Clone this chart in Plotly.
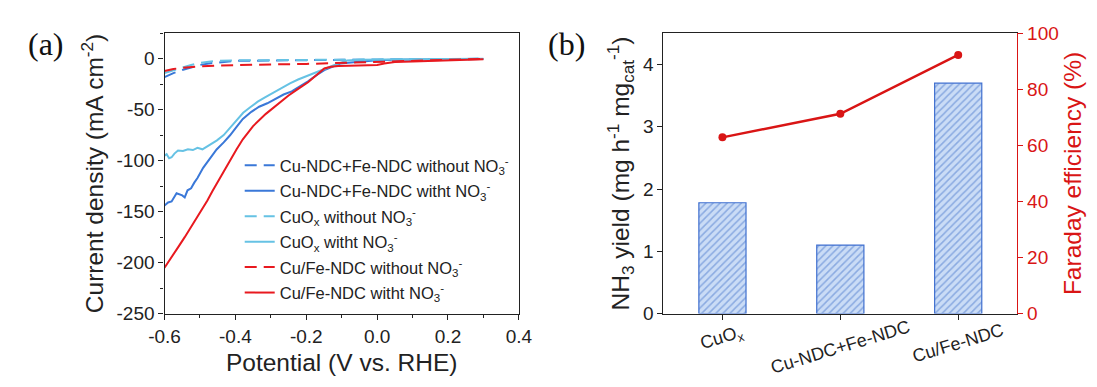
import re
import plotly.graph_objects as go

# ---------------- (a) LSV curves ----------------
pot_cunfe_wo = [-0.600, -0.575, -0.550, -0.525, -0.500, -0.475, -0.450, -0.400, -0.350, -0.300,
                -0.200, -0.100, 0.000, 0.100, 0.200, 0.300]
cur_cunfe_wo = [-18.0, -14.0, -11.0, -8.5, -6.0, -4.5, -3.5, -2.0, -1.8, -1.5,
                -1.2, -1.0, -0.8, -0.5, -0.3, 0.0]

pot_cunfe_w = [-0.600, -0.590, -0.580, -0.566, -0.550, -0.543, -0.535, -0.525, -0.516, -0.507,
               -0.491, -0.470, -0.453, -0.433, -0.415, -0.395, -0.379, -0.355, -0.333, -0.310,
               -0.287, -0.264, -0.241, -0.216, -0.195, -0.169, -0.149, -0.125, -0.104, -0.074,
               -0.050, -0.027, 0.000, 0.050, 0.100, 0.150, 0.200, 0.250, 0.300]
cur_cunfe_w = [-144.0, -141.0, -140.0, -132.0, -134.0, -136.0, -129.0, -127.0, -121.5, -117.0,
               -107.0, -97.0, -89.0, -82.0, -75.0, -66.0, -59.0, -52.0, -47.0, -43.6,
               -39.0, -35.0, -32.0, -27.0, -22.0, -15.5, -11.0, -7.5, -4.7, -3.5,
               -2.8, -2.0, -1.5, -1.0, -0.8, -0.6, -0.5, -0.3, -0.2]

pot_cuox_wo = [-0.600, -0.575, -0.550, -0.525, -0.500, -0.475, -0.450, -0.400, -0.300, -0.200,
               -0.100, 0.000, 0.100, 0.200, 0.300]
cur_cuox_wo = [-14.0, -11.0, -8.5, -6.0, -4.0, -2.8, -2.0, -1.5, -1.2, -1.0,
               -0.8, -0.6, -0.4, -0.2, 0.0]

pot_cuox_w = [-0.600, -0.594, -0.587, -0.580, -0.572, -0.562, -0.548, -0.534, -0.520, -0.507,
              -0.493, -0.482, -0.470, -0.452, -0.433, -0.415, -0.397, -0.378, -0.360, -0.337,
              -0.314, -0.290, -0.269, -0.246, -0.223, -0.200, -0.177, -0.150, -0.122, -0.100,
              -0.085, -0.050, 0.000, 0.100, 0.200, 0.300]
cur_cuox_w = [-95.0, -93.5, -97.5, -96.6, -93.0, -90.0, -90.5, -88.8, -89.5, -87.3,
              -88.8, -86.5, -84.0, -80.0, -74.8, -67.5, -60.5, -53.0, -48.0, -42.0,
              -37.4, -32.5, -28.0, -24.0, -20.3, -17.0, -14.0, -10.0, -6.3, -3.5,
              -1.6, -1.0, -0.6, -0.4, -0.2, 0.0]

pot_cufe_wo = [-0.600, -0.575, -0.550, -0.525, -0.500, -0.450, -0.400, -0.300, -0.200, -0.100,
               0.000, 0.100, 0.200, 0.300]
cur_cufe_wo = [-12.0, -10.0, -8.8, -8.0, -7.5, -6.5, -6.0, -5.5, -5.0, -4.0,
               -3.0, -2.0, -1.0, 0.0]

pot_cufe_w = [-0.600, -0.590, -0.575, -0.560, -0.543, -0.525, -0.510, -0.498, -0.479, -0.465,
              -0.452, -0.433, -0.415, -0.397, -0.379, -0.350, -0.314, -0.300, -0.275, -0.250,
              -0.225, -0.195, -0.175, -0.149, -0.130, -0.110, -0.080, -0.050, -0.020, 0.000,
              0.020, 0.050, 0.100, 0.150, 0.200, 0.250, 0.300]
cur_cufe_w = [-205.0, -200.0, -192.0, -184.0, -175.0, -165.0, -157.0, -150.0, -139.0, -130.0,
              -122.0, -111.0, -100.0, -89.0, -79.0, -66.0, -54.0, -50.0, -43.0, -36.0,
              -30.0, -23.0, -17.0, -9.5, -7.8, -7.0, -6.7, -6.5, -6.2, -6.0,
              -4.5, -3.0, -2.5, -2.0, -1.5, -1.0, -0.5]

x_ticks_a = [-0.6, -0.4, -0.2, 0.0, 0.2, 0.4]
x_ticktext_a = ["-0.6", "-0.4", "-0.2", "0.0", "0.2", "0.4"]
y_ticks_a = [-250, -200, -150, -100, -50, 0]
y_ticktext_a = ["-250", "-200", "-150", "-100", "-50", "0"]

# ---------------- (b) NH3 yield / FE ----------------
catalysts = ["CuO<sub>x</sub>", "Cu-NDC+Fe-NDC", "Cu/Fe-NDC"]
nh3_yield = [1.78, 1.10, 3.70]
faraday_eff = [62.9, 71.3, 92.3]

BLUE = "#3a78d8"
LIGHT = "#66c2e4"
RED = "#e8191f"
FE_RED = "#d91515"
AXIS = "#222222"
FONT = "Arial, Liberation Sans, sans-serif"

W, H = 1097, 387


def px_x(p):
    return p / W


def px_y(p):
    return 1 - p / H


fig = go.Figure()

curves = [
    ("Cu-NDC+Fe-NDC without NO<sub>3</sub><sup>-</sup>", pot_cunfe_wo, cur_cunfe_wo, BLUE, "12px,7px"),
    ("Cu-NDC+Fe-NDC witht NO<sub>3</sub><sup>-</sup>", pot_cunfe_w, cur_cunfe_w, BLUE, "solid"),
    ("CuO<sub>x</sub> without NO<sub>3</sub><sup>-</sup>", pot_cuox_wo, cur_cuox_wo, LIGHT, "12px,7px"),
    ("CuO<sub>x</sub> witht NO<sub>3</sub><sup>-</sup>", pot_cuox_w, cur_cuox_w, LIGHT, "solid"),
    ("Cu/Fe-NDC without NO<sub>3</sub><sup>-</sup>", pot_cufe_wo, cur_cufe_wo, RED, "12px,7px"),
    ("Cu/Fe-NDC witht NO<sub>3</sub><sup>-</sup>", pot_cufe_w, cur_cufe_w, RED, "solid"),
]
for i, (name, xs, ys, col, dash) in enumerate(curves):
    fig.add_trace(go.Scatter(
        x=xs, y=ys, name=name, mode="lines", legendgroup=f"g{i}",
        line=dict(color=col, width=2, dash=dash),
        xaxis="x", yaxis="y",
    ))

fig.add_trace(go.Bar(
    x=catalysts, y=nh3_yield, width=0.4, showlegend=False,
    marker=dict(
        color="#cadcf6",
        line=dict(color="#3f6fcf", width=1.2),
        pattern=dict(shape="/", fgcolor="#4a78cc", bgcolor="#cadcf6", size=5, solidity=0.3),
    ),
    xaxis="x2", yaxis="y2",
))
fig.add_trace(go.Scatter(
    x=catalysts, y=faraday_eff, mode="lines+markers", showlegend=False,
    line=dict(color=FE_RED, width=2.4),
    marker=dict(color=FE_RED, size=8),
    xaxis="x2", yaxis="y3",
))

dom_y = [px_y(321), px_y(24.7)]
TICK_SIZE = 19
TITLE_SIZE = 24.5
common = dict(showline=True, linecolor=AXIS, linewidth=1.3, showgrid=False, zeroline=False,
              ticks="outside", ticklen=5, tickwidth=1.2, tickcolor=AXIS,
              tickfont=dict(family=FONT, size=TICK_SIZE, color=AXIS))

fig.update_layout(
    width=W, height=H,
    margin=dict(l=0, r=0, t=0, b=0),
    paper_bgcolor="white", plot_bgcolor="white",
    font=dict(family=FONT, color=AXIS),
    xaxis=dict(
        domain=[px_x(152.7), px_x(517)], anchor="y", range=[-0.6, 0.4],
        tickmode="array", tickvals=x_ticks_a, ticktext=x_ticktext_a, mirror=True,
        minor=dict(tickmode="linear", tick0=0, dtick=0.1, ticks="outside", ticklen=3, tickcolor=AXIS),
        title=dict(text="Potential (V vs. RHE)", font=dict(family=FONT, size=TITLE_SIZE, color=AXIS), standoff=8),
        **common,
    ),
    yaxis=dict(
        domain=dom_y, anchor="x", range=[-250, 25],
        tickmode="array", tickvals=y_ticks_a, ticktext=y_ticktext_a, mirror=True,
        minor=dict(tickmode="linear", tick0=0, dtick=25, ticks="outside", ticklen=3, tickcolor=AXIS),
        title=dict(text="Current density (mA cm<sup>-2</sup>)",
                   font=dict(family=FONT, size=TITLE_SIZE, color=AXIS), standoff=5),
        **common,
    ),
    xaxis2=dict(
        domain=[px_x(665.7), px_x(1029.3)], anchor="y2", type="category", range=[-0.5, 2.5],
        showticklabels=False, mirror=True,
        **common,
    ),
    yaxis2=dict(
        domain=dom_y, anchor="x2", range=[0, 4.5], tickmode="linear", tick0=0, dtick=1,
        title=dict(text="NH<sub>3</sub> yield (mg h<sup>-1</sup> mg<sub>cat</sub><sup>-1</sup>)",
                   font=dict(family=FONT, size=TITLE_SIZE, color=AXIS), standoff=6),
        **common,
    ),
    yaxis3=dict(
        overlaying="y2", anchor="x2", side="right", range=[0, 100], tickmode="linear", tick0=0, dtick=20,
        showline=True, linecolor=FE_RED, linewidth=1.3, showgrid=False, zeroline=False,
        ticks="outside", ticklen=5, tickwidth=1.2, tickcolor=FE_RED,
        tickfont=dict(family=FONT, size=TICK_SIZE, color=FE_RED),
        title=dict(text="Faraday efficiency (%)", font=dict(family=FONT, size=TITLE_SIZE, color=FE_RED), standoff=6),
    ),
    legend=dict(
        x=px_x(230), y=px_y(146), xanchor="left", yanchor="top",
        bgcolor="rgba(0,0,0,0)", font=dict(family=FONT, size=16.5, color=AXIS),
        tracegroupgap=1, itemwidth=30,
    ),
)

# rotated category labels, centred under each bar
for cat in catalysts:
    plain = re.sub(r"<[^>]+>", "", cat)
    fig.add_annotation(
        x=cat, xref="x2", y=px_y(343 + len(plain)), yref="paper",
        text=cat, showarrow=False, textangle=-17,
        xanchor="center", yanchor="middle",
        font=dict(family=FONT, size=18, color=AXIS),
    )

# panel letters
for label, cx in (("(a)", 31), ("(b)", 566)):
    fig.add_annotation(
        x=px_x(cx), y=px_y(36), xref="paper", yref="paper", text=label, showarrow=False,
        xanchor="center", yanchor="middle",
        font=dict(family="Liberation Serif, Times New Roman, serif", size=32, color="#111111"),
    )

fig.write_html("out.html")
